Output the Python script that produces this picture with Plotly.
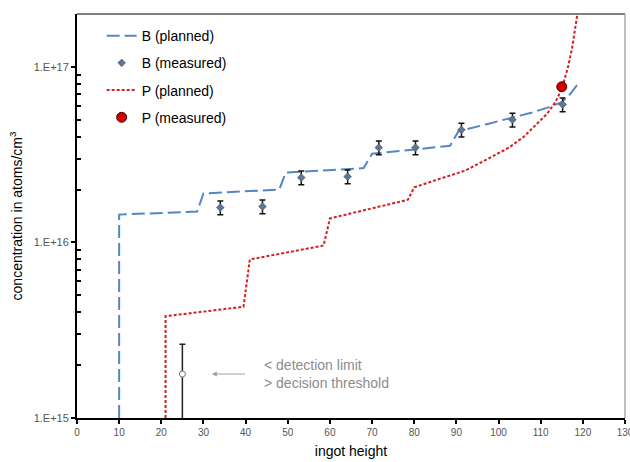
import numpy as np
import plotly.graph_objects as go

# Planned boron profile along the ingot
b_plan_x = [10, 10, 28.5, 30, 48, 49.5, 68, 70, 88.5, 90.5, 97, 103, 108, 112, 115, 117, 119]
b_plan_y = [1e15, 1.44e16, 1.5e16, 1.9e16, 2.0e16, 2.5e16, 2.65e16, 3.2e16, 3.55e16, 4.3e16,
            4.7e16, 5.1e16, 5.5e16, 5.9e16, 6.3e16, 7.0e16, 8.1e16]

# Measured boron
b_meas_x = [34, 44, 53.2, 64.2, 71.6, 80.3, 91.2, 103.3, 115.2]
b_meas_y = [1.58e16, 1.6e16, 2.34e16, 2.37e16, 3.47e16, 3.47e16, 4.38e16, 5.0e16, 6.1e16]
b_err_pct = 9

# Planned phosphorus profile
p_plan_x = [21, 21, 39.5, 41, 58.5, 60, 78.5, 80, 86, 92, 97, 102.5, 106, 109, 111.5, 113.5,
            115, 116.5, 117.5, 118.7]
p_plan_y = [1e15, 3.8e15, 4.3e15, 8.0e15, 9.6e15, 1.37e16, 1.75e16, 2.06e16, 2.3e16, 2.56e16,
            2.95e16, 3.47e16, 4.0e16, 4.7e16, 5.4e16, 6.3e16, 7.5e16, 1.0e17, 1.3e17, 2.0e17]

# Measured phosphorus
p_meas_x = [115]
p_meas_y = [7.7e16]

# Boron value below detection limit, above decision threshold
dl_x = [25]
dl_y = [1.78e15]
dl_upper = [2.63e15]
dl_lower = [0.8e15]

x_ticks = list(range(0, 140, 10))
y_ticks = [1e15, 1e16, 1e17]
y_ticktext = ["1.E+15", "1.E+16", "1.E+17"]
y_minor = [m * 10 ** e for e in (15, 16) for m in range(2, 10)]

BLUE = "#5585c5"
RED = "#d41f1f"
FONT = "Liberation Sans, Arial, sans-serif"

fig = go.Figure()

fig.add_trace(go.Scatter(
    x=b_plan_x, y=b_plan_y, mode="lines", name="B (planned)", legendgroup="a",
    line=dict(color=BLUE, width=2, dash="13px,5px"),
))
fig.add_trace(go.Scatter(
    x=b_meas_x, y=b_meas_y, mode="markers", name="B (measured)", legendgroup="b",
    marker=dict(symbol="diamond", size=6, color="#5d7694", line=dict(color="#3a4a5e", width=0.5)),
    error_y=dict(type="percent", value=b_err_pct, color="#111111", thickness=1.5, width=3),
))
fig.add_trace(go.Scatter(
    x=p_plan_x, y=p_plan_y, mode="lines", name="P (planned)", legendgroup="c",
    line=dict(color=RED, width=2, dash="3px,2px"),
))
fig.add_trace(go.Scatter(
    x=p_meas_x, y=p_meas_y, mode="markers", name="P (measured)", legendgroup="d",
    marker=dict(symbol="circle", size=10, color="#d40000", line=dict(color="#4a0000", width=1)),
))
fig.add_trace(go.Scatter(
    x=dl_x, y=dl_y, mode="markers", showlegend=False,
    marker=dict(symbol="circle", size=6, color="white", line=dict(color="#777777", width=1)),
    error_y=dict(type="data", symmetric=False,
                 array=[u - v for u, v in zip(dl_upper, dl_y)],
                 arrayminus=[v - l for v, l in zip(dl_y, dl_lower)],
                 color="#222222", thickness=1.5, width=3),
))

# Arrow and label for the detection-limit point
fig.add_annotation(
    x=32, y=np.log10(dl_y[0]), ax=40.2, ay=np.log10(dl_y[0]),
    xref="x", yref="y", axref="x", ayref="y",
    text="", showarrow=True, arrowhead=2, arrowsize=1, arrowwidth=1, arrowcolor="#a0a0a0",
)
fig.add_annotation(
    x=43.8, y=np.log10(dl_y[0]), xref="x", yref="y", xanchor="left", yanchor="middle",
    text="< detection limit<br>> decision threshold", showarrow=False, align="left",
    font=dict(family=FONT, size=14, color="#8c8c8c"),
)

# Top and right frame lines
fig.add_shape(type="line", xref="paper", yref="paper", x0=0, x1=1, y0=1, y1=1,
              line=dict(color="#555555", width=1.5))
fig.add_shape(type="line", xref="paper", yref="paper", x0=1, x1=1, y0=0, y1=1,
              line=dict(color="#aaaaaa", width=1.5))

fig.update_layout(
    width=630, height=462,
    margin=dict(l=77, r=5, t=14, b=44),
    paper_bgcolor="white", plot_bgcolor="white",
    font=dict(family=FONT, color="#000000"),
    showlegend=True,
    legend=dict(
        x=0.045, y=0.985, xanchor="left", yanchor="top",
        bgcolor="rgba(0,0,0,0)", traceorder="grouped", tracegroupgap=6,
        font=dict(family=FONT, size=14, color="#000000"),
        itemwidth=30,
    ),
    xaxis=dict(
        range=[0, 130], tickvals=x_ticks, ticktext=[str(v) for v in x_ticks],
        ticklabeloverflow="allow", automargin=False,
        showgrid=False, zeroline=False, showline=True, linecolor="#000000", linewidth=2,
        ticks="outside", ticklen=4, tickwidth=1.5, tickcolor="#000000",
        tickfont=dict(family=FONT, size=10, color="#555555"),
        title=dict(text="ingot height", font=dict(family=FONT, size=14, color="#000000"), standoff=9),
    ),
    yaxis=dict(
        type="log", range=[15, np.log10(2e17)], tickvals=y_ticks, ticktext=y_ticktext,
        automargin=False,
        showgrid=False, zeroline=False, showline=True, linecolor="#000000", linewidth=2,
        ticks="outside", ticklen=4, tickwidth=1.5, tickcolor="#000000",
        tickfont=dict(family=FONT, size=11, color="#555555"),
        minor=dict(tickvals=y_minor, ticks="inside", ticklen=4, tickwidth=1.5,
                   tickcolor="#000000", showgrid=False),
        title=dict(text="concentration in atoms/cm<sup>3</sup>",
                   font=dict(family=FONT, size=14, color="#000000"), standoff=8),
    ),
)

fig.write_html("out.html")
